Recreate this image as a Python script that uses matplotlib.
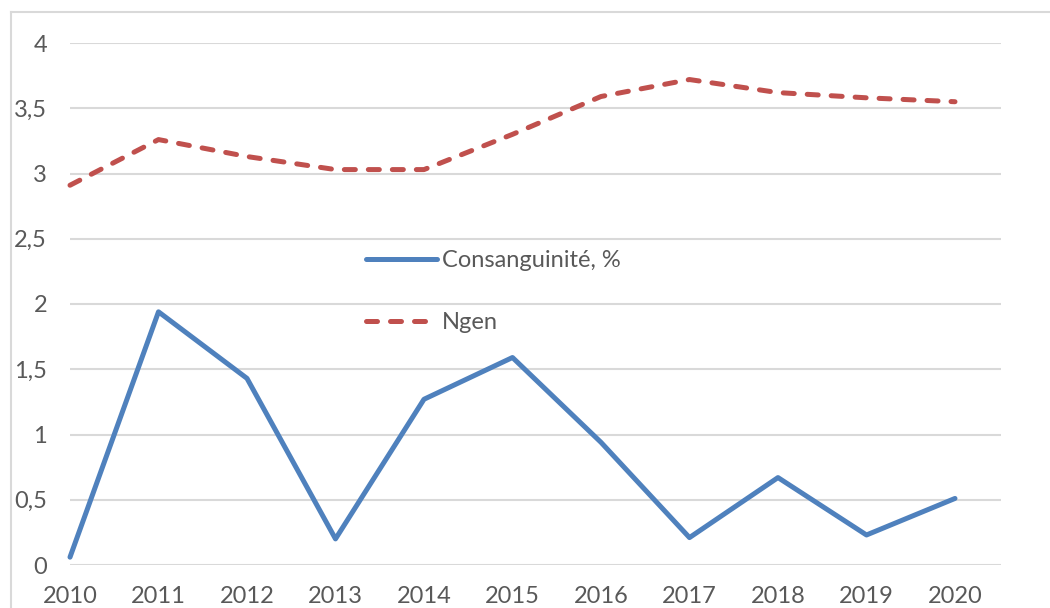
import matplotlib
matplotlib.use("Agg")
import matplotlib.pyplot as plt
from matplotlib.lines import Line2D
from matplotlib.ticker import FuncFormatter

years = [2010, 2011, 2012, 2013, 2014, 2015, 2016, 2017, 2018, 2019, 2020]
consang = [0.06, 1.94, 1.43, 0.20, 1.27, 1.59, 0.94, 0.21, 0.67, 0.23, 0.51]
ngen = [2.91, 3.26, 3.13, 3.03, 3.03, 3.30, 3.59, 3.72, 3.62, 3.58, 3.55]
yticks = [0, 0.5, 1, 1.5, 2, 2.5, 3, 3.5, 4]

BLUE = "#4F81BD"
RED = "#C0504D"
GRID = "#D9D9D9"
TEXT = "#595959"

plt.rcParams["font.family"] = ["Lato", "DejaVu Sans"]

W, H = 1050, 608
fig = plt.figure(figsize=(W / 100, H / 100), dpi=100)
ax = fig.add_axes([70 / W, 43 / H, (1001 - 70) / W, (565 - 43) / H])

ax.plot(years, consang, color=BLUE, lw=3.6, solid_capstyle="round",
        clip_on=False, label="Consanguinité, %")
ax.plot(years, ngen, color=RED, lw=3.6, ls=(0, (2.2, 2.6)),
        dash_capstyle="round", clip_on=False, label="Ngen")

ax.set_xlim(2010, 2020.52)
ax.set_ylim(0, 4)
ax.set_xticks(years)
ax.set_yticks(yticks)
ax.yaxis.set_major_formatter(FuncFormatter(lambda v, p: f"{v:g}".replace(".", ",")))
ax.grid(axis="y", color=GRID, lw=1.5)
ax.set_axisbelow(True)
for s in ax.spines.values():
    s.set_visible(False)
ax.tick_params(length=0, colors=TEXT, labelsize=17)
ax.tick_params(axis="y", pad=16.5)
ax.tick_params(axis="x", pad=15)

leg = ax.legend(loc="upper left", bbox_to_anchor=(366 / W, (H - 250) / H),
                bbox_transform=fig.transFigure, frameon=False, fontsize=17,
                handlelength=3.0, handletextpad=0.2, labelspacing=1.75,
                borderpad=0, borderaxespad=0)
for t in leg.get_texts():
    t.set_color(TEXT)

# chart frame (top and left edges visible)
fig.add_artist(Line2D([11 / W, 1], [1 - 12 / H, 1 - 12 / H], color=GRID, lw=1.5,
                      transform=fig.transFigure))
fig.add_artist(Line2D([11 / W, 11 / W], [0, 1 - 12 / H], color=GRID, lw=1.5,
                      transform=fig.transFigure))

fig.savefig("out.png", dpi=100)
